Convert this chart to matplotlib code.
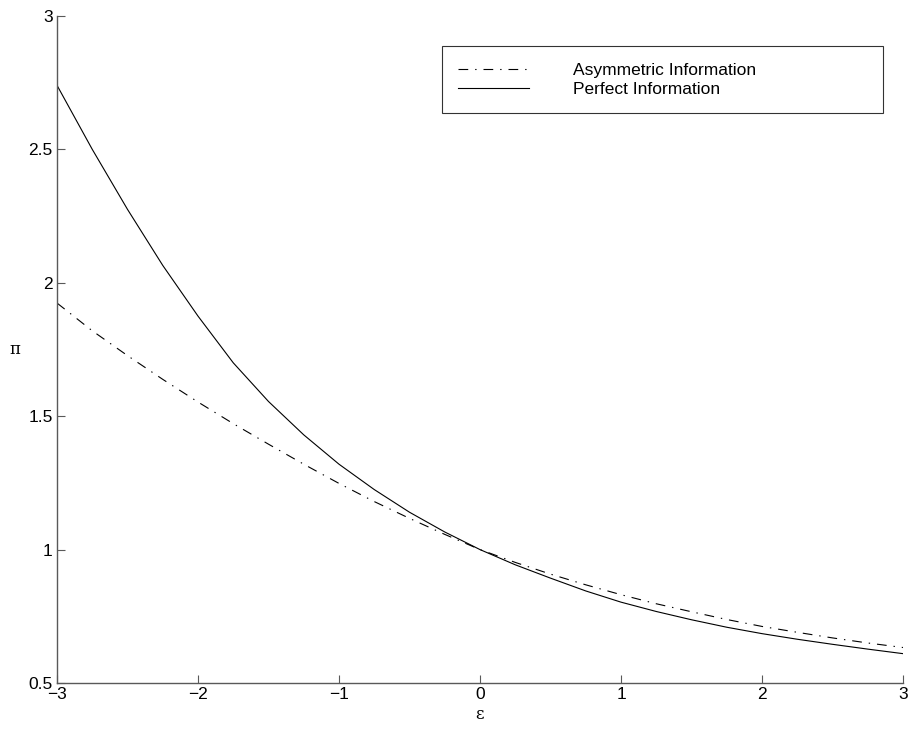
import matplotlib
matplotlib.use("Agg")
import matplotlib.pyplot as plt

# --------------------------------
# DATA
# --------------------------------
eps = [-3.00, -2.75, -2.50, -2.25, -2.00, -1.75, -1.50, -1.25, -1.00,
       -0.75, -0.50, -0.25, 0.00, 0.25, 0.50, 0.75, 1.00, 1.25, 1.50,
       1.75, 2.00, 2.25, 2.50, 2.75, 3.00]

pi_asym = [1.924, 1.820, 1.727, 1.638, 1.553, 1.472, 1.395, 1.320, 1.248,
           1.180, 1.117, 1.057, 1.000, 0.952, 0.908, 0.868, 0.831, 0.797,
           0.767, 0.738, 0.712, 0.690, 0.669, 0.650, 0.633]

pi_perfect = [2.740, 2.500, 2.275, 2.065, 1.875, 1.700, 1.555, 1.430, 1.320,
              1.225, 1.140, 1.066, 1.000, 0.943, 0.893, 0.845, 0.803, 0.768,
              0.737, 0.709, 0.685, 0.664, 0.645, 0.627, 0.610]

series_labels = ["Asymmetric Information", "Perfect Information"]
x_ticks = [-3, -2, -1, 0, 1, 2, 3]
y_ticks = [0.5, 1, 1.5, 2, 2.5, 3]
y_tick_labels = ["0.5", "1", "1.5", "2", "2.5", "3"]

# --------------------------------
# STYLE
# --------------------------------
plt.rcParams.update({
    "font.family": ["Liberation Sans", "DejaVu Sans"],
    "font.size": 12,
    "lines.scale_dashes": False,
})

fig = plt.figure(figsize=(9.08, 7.29), dpi=100)
ax = fig.add_axes([0.0628, 0.0631, 0.9317, 0.915])

ax.plot(eps, pi_asym, color="black", lw=0.8,
        linestyle=(0, (7, 5, 1, 5)), label=series_labels[0])
ax.plot(eps, pi_perfect, color="black", lw=0.8,
        linestyle="-", label=series_labels[1])

ax.set_xlim(-3, 3)
ax.set_ylim(0.5, 3)
ax.set_xticks(x_ticks)
ax.set_yticks(y_ticks)
ax.set_yticklabels(y_tick_labels)

for side in ["top", "right"]:
    ax.spines[side].set_visible(False)
for side in ["left", "bottom"]:
    ax.spines[side].set_color("0.35")
    ax.spines[side].set_linewidth(1.0)

ax.tick_params(direction="in", length=5.5, width=0.8, color="0.35",
               labelsize=12.5, pad=3)

ax.set_xlabel("ε", family=["DejaVu Serif"], fontsize=12, labelpad=3)
ax.set_ylabel("π", family=["DejaVu Serif"], fontsize=12, rotation=0,
              labelpad=10, va="center")

leg = ax.legend(loc="upper left", bbox_to_anchor=(0.4547, 0.955, 0.5217, 0.0),
                mode="expand", borderaxespad=0, frameon=True, fancybox=False,
                edgecolor="black", handlelength=4.1, handletextpad=2.5,
                borderpad=0.95, labelspacing=0.22, fontsize=12.5)
leg.get_frame().set_linewidth(0.8)

fig.savefig("out.png", dpi=100, facecolor="white")
